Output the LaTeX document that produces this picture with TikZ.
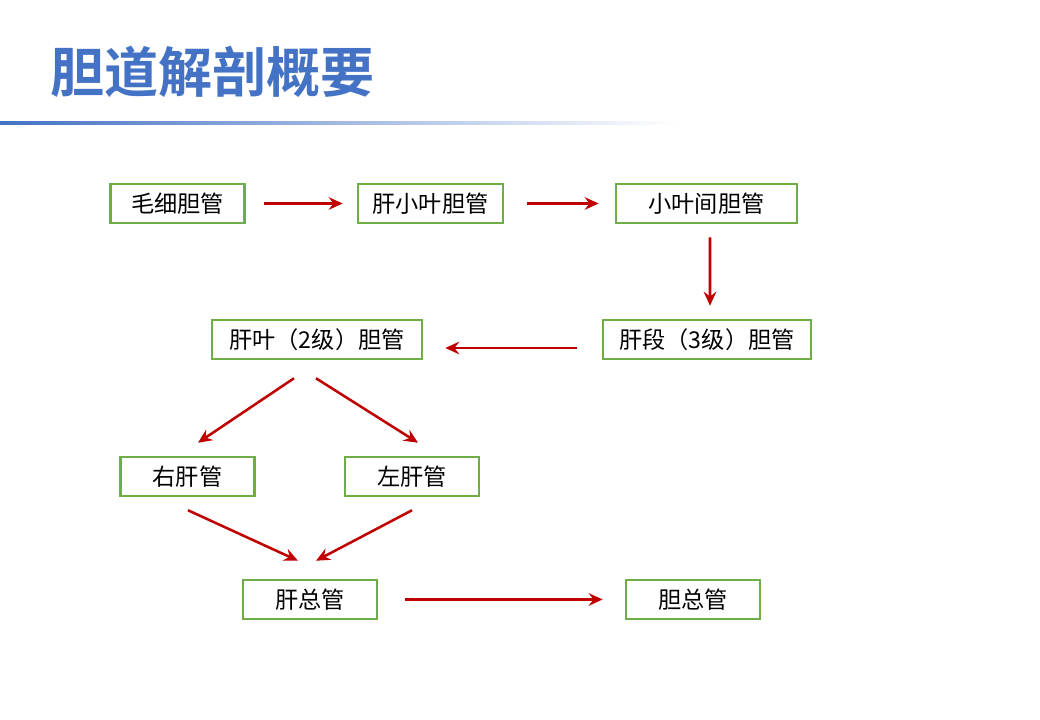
\documentclass[tikz,border=0pt]{standalone}
\usepackage{fontspec}
\usepackage{xcolor}
\usepackage{tikz}
\usetikzlibrary{arrows.meta, positioning}
\newfontfamily\cjk{Noto Sans CJK SC}
\newfontfamily\cjkbold{Noto Sans CJK SC Bold}
\definecolor{TitleBlue}{HTML}{4472C4}
\definecolor{BoxGreen}{HTML}{70AD47}
\definecolor{FlowRed}{HTML}{C00000}
\tikzset{
    duct/.style={draw=BoxGreen, line width=1.8pt, fill=white, minimum width=3.35cm,
        minimum height=0.975cm, inner sep=0pt, font=\cjk\fontsize{16.5}{18}\selectfont},
    flow/.style={FlowRed, line width=1.8pt, -{Stealth[length=10pt,width=9pt,inset=3.5pt]}}
}

\begin{document}
\begin{tikzpicture}[x=0.025cm, y=-0.025cm]
    \useasboundingbox (0,0) rectangle (1040,720);
    % title
    \node[anchor=west, inner sep=0pt, text=TitleBlue, font=\cjkbold\fontsize{38.5}{42}\selectfont] (title) at (50,72) {胆道解剖概要};
    \shade[left color=TitleBlue, right color=white] (0,121.8) rectangle (680,124.2);
    % ducts
    \node[duct] (capil) at (177.5,203.5) {毛细胆管};
    \node[duct, minimum width=3.625cm] (lobul) at (430.5,203.5) {肝小叶胆管};
    \node[duct, minimum width=4.525cm] (inter) at (706.5,203.5) {小叶间胆管};
    \node[duct, minimum width=5.2cm] (segm) at (707,339.5) {肝段（3级）胆管};
    \node[duct, minimum width=5.25cm] (lobe) at (317,339.5) {肝叶（2级）胆管};
    \node[duct] (right) at (187.5,476.5) {右肝管};
    \node[duct] (left) at (412,476.5) {左肝管};
    \node[duct] (hepat) at (310,599.5) {肝总管};
    \node[duct] (common) at (693,599.5) {胆总管};
    % arrows
    \path[flow]
        ([shift={(18,0)}]capil.east) edge ([shift={(-14,0)}]lobul.west)
        ([shift={(23,0)}]lobul.east) edge ([shift={(-16,0)}]inter.west)
        ([shift={(3.5,13)}]inter.south) edge ([shift={(3,-13)}]segm.north)
        ([shift={(-25,8.5)}]segm.west) edge ([shift={(22,8.5)}]lobe.east)
        ([shift={(-23,18)}]lobe.south) edge ([shift={(10.5,-13)}]right.north)
        ([shift={(-1,18)}]lobe.south) edge ([shift={(6,-13)}]left.north)
        ([shift={(0.5,13)}]right.south) edge ([shift={(-12,-18)}]hepat.north)
        ([shift={(0,13)}]left.south) edge ([shift={(6,-18)}]hepat.north)
        ([shift={(27,0)}]hepat.east) edge ([shift={(-22,0)}]common.west);
\end{tikzpicture}
\end{document}
